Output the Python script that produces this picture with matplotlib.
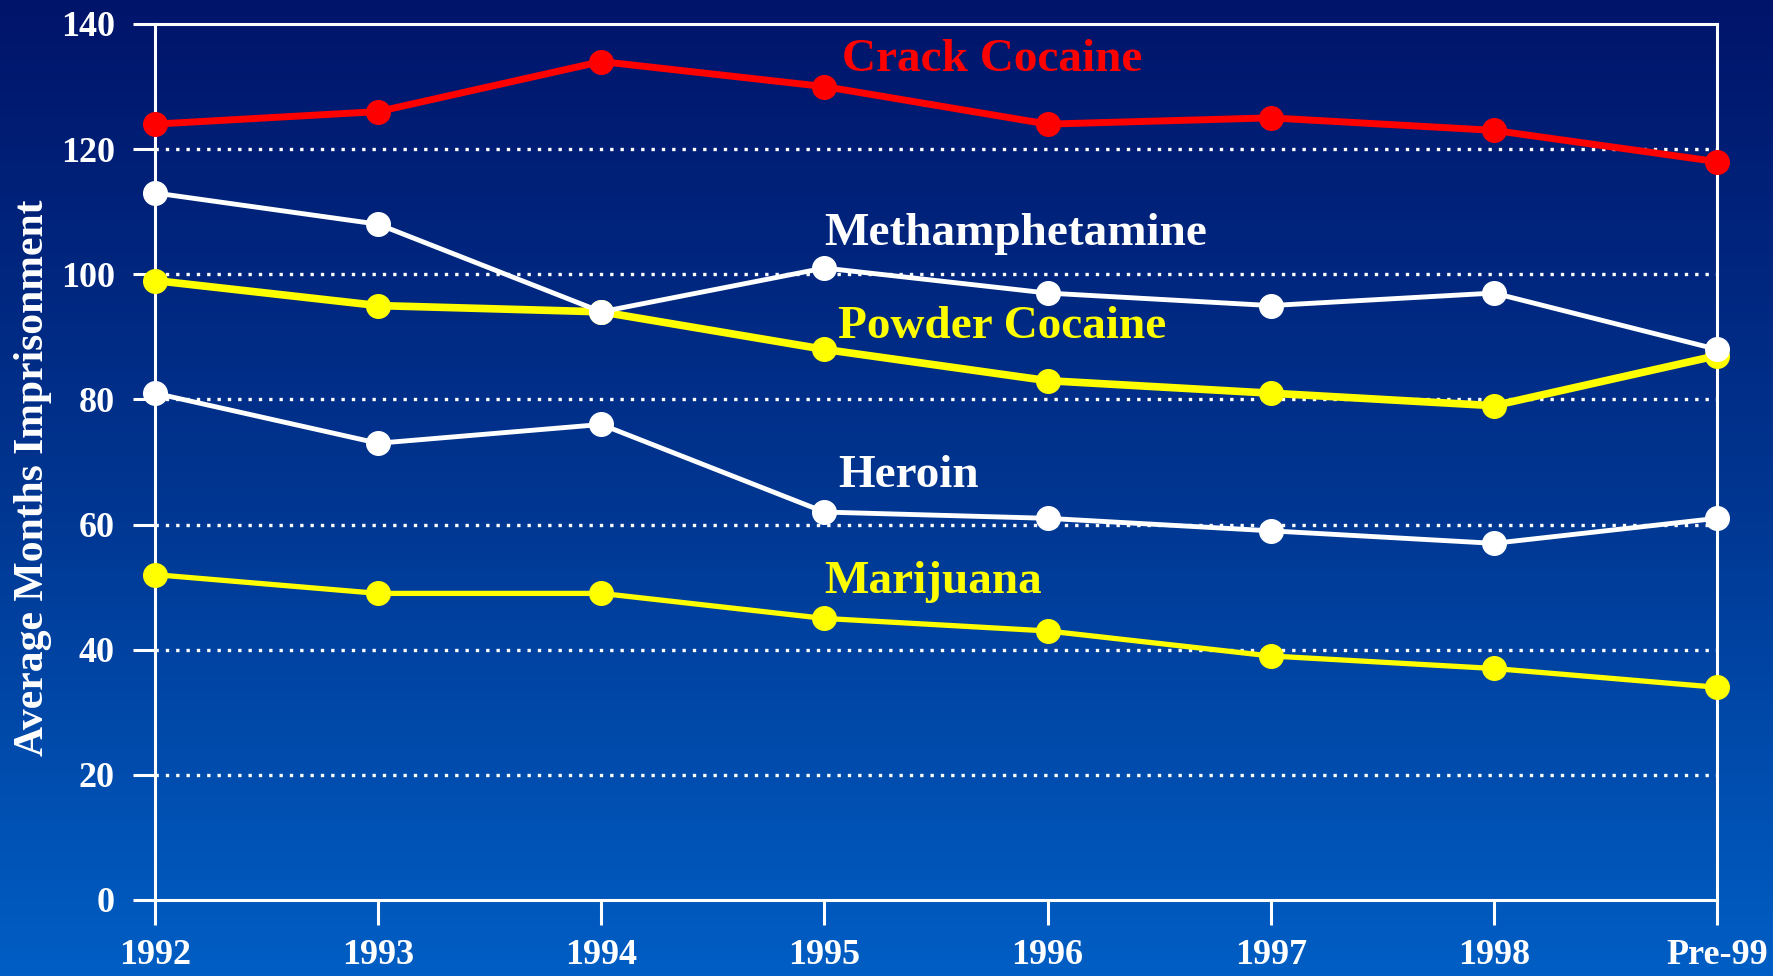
import numpy as np
import matplotlib
matplotlib.use("Agg")
import matplotlib.pyplot as plt
from matplotlib.colors import LinearSegmentedColormap

# data
years = ["1992", "1993", "1994", "1995", "1996", "1997", "1998", "Pre-99"]
crack = [124, 126, 134, 130, 124, 125, 123, 118]
meth = [113, 108, 94, 101, 97, 95, 97, 88]
powder = [99, 95, 94, 88, 83, 81, 79, 87]
heroin = [81, 73, 76, 62, 61, 59, 57, 61]
marijuana = [52, 49, 49, 45, 43, 39, 37, 34]

serif = "Liberation Serif"

fig = plt.figure(figsize=(17.73, 9.76), dpi=100)

# background gradient
bg = fig.add_axes([0, 0, 1, 1], zorder=-10)
cmap = LinearSegmentedColormap.from_list("bg", ["#00146a", "#003590", "#005ec4"])
bg.imshow(np.linspace(0, 1, 256).reshape(-1, 1), aspect="auto", cmap=cmap,
          extent=[0, 1, 0, 1])
bg.axis("off")

W, H = 1773, 976
ax = fig.add_axes([155 / W, 1 - 900 / H, (1717 - 155) / W, (900 - 24) / H])
ax.patch.set_alpha(0)

x = np.arange(len(years))
ax.plot(x, crack, color="#ff0000", lw=5, marker="o", ms=17, zorder=5, clip_on=False)
ax.plot(x, meth, color="white", lw=3.5, marker="o", ms=17, zorder=4, clip_on=False)
ax.plot(x, powder, color="#ffff00", lw=5.5, marker="o", ms=17, zorder=3, clip_on=False)
ax.plot(x, heroin, color="white", lw=3.5, marker="o", ms=17, zorder=4, clip_on=False)
ax.plot(x, marijuana, color="#ffff00", lw=3.8, marker="o", ms=17, zorder=4, clip_on=False)

lab = dict(fontsize=34, fontweight="bold", family=serif, va="center", ha="left")
ax.text(3.08, 134.2, "Crack Cocaine", color="#ff0000", **lab)
ax.text(3.0, 106.5, "Methamphetamine", color="white", **lab)
ax.text(3.06, 91.5, "Powder Cocaine", color="#ffff00", **lab)
ax.text(3.06, 67.7, "Heroin", color="white", **lab)
ax.text(3.0, 50.9, "Marijuana", color="#ffff00", **lab)

ax.set_xlim(0, 7)
ax.set_ylim(0, 140)
ax.set_yticks(range(0, 141, 20))
ax.set_xticks(x)
ax.set_xticklabels(years)
for y in range(20, 121, 20):
    ax.axhline(y, color="white", lw=2.4, linestyle=(0, (1, 2.1)), zorder=1)

for s in ax.spines.values():
    s.set_color("white")
    s.set_linewidth(2.2)
ax.tick_params(colors="white", width=2.2)
ax.tick_params(axis="x", length=18, labelsize=26, pad=10)
ax.tick_params(axis="y", length=16, labelsize=26, pad=13)
for t in ax.get_xticklabels() + ax.get_yticklabels():
    t.set_family(serif)
    t.set_fontweight("bold")
    t.set_color("white")

ax.set_ylabel("Average Months Imprisonment", color="white", fontsize=30,
              fontweight="bold", family=serif)
ax.yaxis.set_label_coords(-0.066, 0.482)

fig.savefig("out.png", dpi=100)
